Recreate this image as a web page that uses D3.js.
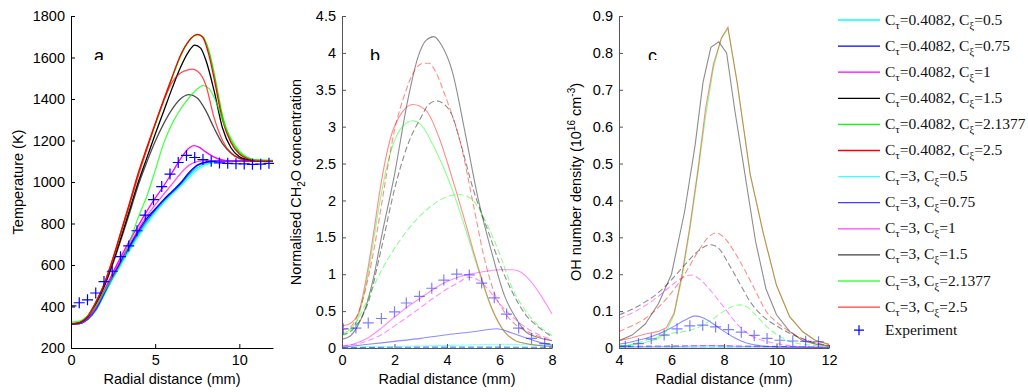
<!DOCTYPE html>
<html>
<head>
<meta charset="utf-8">
<script src="https://cdn.jsdelivr.net/npm/d3@7/dist/d3.min.js"></script>
<style>body{margin:0;background:#fff}</style>
</head>
<body>
<script>
// legend entries, in plotting order
var tauVals = ['0.4082','0.4082','0.4082','0.4082','0.4082','0.4082','3','3','3','3','3','3'];
var xiVals = ['0.5','0.75','1','1.5','2.1377','2.5','0.5','0.75','1','1.5','2.1377','2.5'];
var runColors = ['#00ffff','#0000ff','#ff00ff','#000000','#00ff00','#ff0000'];

// axis ticks
var tempXTicks = [0,5,10], tempYTicks = [200,400,600,800,1000,1200,1400,1600,1800];
var ch2oXTicks = [0,2,4,6,8], ch2oYTicks = [0,0.5,1,1.5,2,2.5,3,3.5,4,4.5];
var ohXTicks = [4,6,8,10,12], ohYTicks = [0,0.1,0.2,0.3,0.4,0.5,0.6,0.7,0.8,0.9];

// (a) temperature [mm, K]
var tempRuns = [
  [[0,315],[0.5,318],[1,338],[1.5,385],[2,462],[2.5,540],[3,612],[3.5,680],[4,745],[4.5,805],[5,858],[5.5,905],[6,948],[6.5,985],[7,1030],[7.5,1068],[8,1088],[8.5,1097],[9,1100],[12,1100]],
  [[0,315],[0.5,318],[1,340],[1.5,390],[2,470],[2.5,550],[3,625],[3.5,695],[4,765],[4.5,825],[5,870],[5.5,915],[6,955],[6.5,995],[7,1045],[7.5,1082],[8,1096],[8.5,1100],[12,1100]],
  [[0,315],[0.5,320],[1,345],[1.5,400],[2,482],[2.5,565],[3,645],[3.5,720],[4,790],[4.5,858],[5,922],[5.5,980],[6,1045],[6.5,1110],[7,1163],[7.3,1175],[7.6,1168],[8,1145],[8.5,1120],[9,1106],[9.5,1101],[10,1100],[12,1100]],
  [[0,315],[0.5,322],[1,352],[1.5,418],[2,505],[2.5,615],[3,740],[3.5,870],[4,1000],[4.5,1115],[5,1230],[5.5,1340],[6,1450],[6.5,1552],[7,1630],[7.35,1660],[7.7,1645],[8,1590],[8.5,1440],[9,1260],[9.5,1165],[10,1122],[10.5,1108],[11,1102],[12,1100]],
  [[0,318],[0.5,324],[1,355],[1.5,423],[2,512],[2.5,630],[3,765],[3.5,900],[4,1040],[4.5,1160],[5,1275],[5.5,1390],[6,1500],[6.5,1605],[7,1678],[7.5,1709],[7.8,1702],[8.2,1630],[8.5,1525],[9,1320],[9.5,1200],[10,1142],[10.5,1116],[11,1107],[12,1104]],
  [[0,315],[0.5,322],[1,355],[1.5,425],[2,515],[2.5,635],[3,770],[3.5,905],[4,1045],[4.5,1165],[5,1280],[5.5,1395],[6,1505],[6.5,1610],[7,1680],[7.5,1711],[7.8,1700],[8.2,1610],[8.5,1500],[9,1300],[9.5,1190],[10,1135],[10.5,1112],[11,1104],[12,1102]],
  [[0,315],[0.5,318],[1,337],[1.5,382],[2,458],[2.5,535],[3,605],[3.5,672],[4,737],[4.5,797],[5,850],[5.5,898],[6,940],[6.5,978],[7,1020],[7.5,1058],[8,1082],[8.5,1094],[9,1099],[9.5,1100],[12,1100]],
  [[0,315],[0.5,318],[1,339],[1.5,388],[2,466],[2.5,545],[3,618],[3.5,688],[4,755],[4.5,815],[5,865],[5.5,910],[6,950],[6.5,990],[7,1038],[7.5,1078],[8,1094],[8.5,1099],[9,1100],[12,1100]],
  [[0,315],[0.5,319],[1,342],[1.5,395],[2,475],[2.5,555],[3,632],[3.5,705],[4,772],[4.5,835],[5,890],[5.5,940],[6,990],[6.5,1040],[7,1080],[7.5,1098],[8,1103],[8.5,1102],[9,1100],[12,1100]],
  [[0,315],[0.5,321],[1,350],[1.5,414],[2,500],[2.5,608],[3,730],[3.5,855],[4,985],[4.5,1095],[5,1195],[5.5,1280],[6,1350],[6.5,1400],[7,1421],[7.5,1405],[8,1345],[8.5,1260],[9,1185],[9.5,1140],[10,1115],[10.5,1105],[11,1101],[12,1100]],
  [[0,325],[0.5,330],[1,355],[1.5,405],[2,475],[2.5,540],[3,610],[3.5,715],[4,830],[4.5,930],[5,1055],[5.5,1185],[6,1280],[6.5,1350],[7,1405],[7.5,1448],[7.85,1466],[8.2,1450],[8.6,1390],[9,1300],[9.5,1210],[10,1150],[10.5,1118],[11,1106],[12,1103]],
  [[0,315],[0.5,322],[1,354],[1.5,423],[2,512],[2.5,630],[3,762],[3.5,895],[4,1030],[4.5,1155],[5,1280],[5.5,1390],[6,1480],[6.5,1525],[7,1542],[7.2,1544],[7.5,1535],[8,1470],[8.5,1310],[9,1200],[9.5,1140],[10,1112],[10.5,1103],[11,1100],[12,1100]]
];
var tempExp = [[0,403],[0.49,418],[0.98,432],[1.47,465],[1.96,520],[2.45,570],[2.94,640],[3.43,692],[3.92,765],[4.41,840],[4.9,915],[5.39,978],[5.88,1038],[6.37,1094],[6.86,1128],[7.35,1118],[7.84,1108],[8.33,1100],[8.82,1092],[9.31,1090],[9.8,1088],[10.29,1087],[10.78,1085],[11.27,1086],[11.76,1090]];

// (b) normalised CH2O [mm, -]
var ch2oRuns = [
  [[0,0.01],[2,0.02],[4,0.035],[6,0.05],[7,0.045],[8,0.035]],
  [[0,0.01],[1,0.05],[2,0.09],[3,0.13],[4,0.18],[5,0.22],[5.9,0.26],[6.5,0.2],[7,0.14],[7.5,0.08],[8,0.04]],
  [[0,0.02],[0.5,0.06],[1,0.14],[1.5,0.27],[2,0.42],[2.5,0.56],[3,0.68],[3.5,0.8],[4,0.9],[4.5,0.97],[5,1.01],[5.5,1.04],[6,1.06],[6.5,1.06],[6.8,1.03],[7.2,0.9],[7.6,0.7],[8,0.46]],
  [[0,0.12],[0.3,0.16],[0.6,0.3],[0.9,0.55],[1.2,0.95],[1.5,1.5],[2,2.35],[2.5,3.35],[2.9,3.95],[3.2,4.17],[3.5,4.22],[3.8,4.1],[4.2,3.75],[4.7,2.9],[5.2,2.0],[5.7,1.3],[6.2,0.7],[6.6,0.42],[7,0.22],[7.5,0.14],[8,0.1]],
  [[0,0.2],[0.3,0.25],[0.6,0.4],[0.95,0.92],[1.2,1.45],[1.45,2.0],[1.85,2.65],[2.3,3.0],[2.7,3.08],[3,3.03],[3.4,2.8],[3.8,2.5],[4.2,2.15],[4.7,1.62],[5.2,1.05],[5.7,0.53],[6.2,0.21],[6.6,0.1],[7,0.06],[8,0.02]],
  [[0,0.3],[0.3,0.33],[0.6,0.45],[0.95,1.0],[1.2,1.55],[1.45,2.15],[1.85,2.85],[2.3,3.2],[2.7,3.3],[3.2,3.22],[3.7,2.85],[4.2,2.3],[4.7,1.7],[5.2,1.08],[5.7,0.55],[6.2,0.22],[6.6,0.1],[7,0.06],[8,0.02]],
  [[0,0.004],[4,0.008],[8,0.008]],
  [[0,0.006],[4,0.012],[8,0.01]],
  [[0,0.03],[0.5,0.05],[1,0.1],[1.5,0.18],[2,0.3],[2.5,0.42],[3,0.55],[3.5,0.68],[4,0.8],[4.5,0.9],[4.8,0.96],[5.2,0.92],[5.6,0.78],[6,0.6],[6.5,0.42],[7,0.28],[7.5,0.18],[8,0.12]],
  [[0,0.18],[0.3,0.22],[0.6,0.33],[1,0.62],[1.5,1.35],[2,2.15],[2.5,2.75],[3,3.12],[3.3,3.3],[3.6,3.35],[3.9,3.3],[4.2,3.15],[4.5,2.8],[5,2.15],[5.6,1.55],[6,1.15],[6.5,0.75],[7,0.45],[7.5,0.28],[8,0.15]],
  [[0,0.17],[0.3,0.22],[0.6,0.38],[1,0.68],[1.5,1.05],[2,1.35],[2.5,1.6],[3,1.8],[3.5,1.95],[4,2.05],[4.4,2.08],[4.8,2.05],[5.2,1.9],[5.6,1.62],[6,1.28],[6.5,0.8],[7,0.5],[7.5,0.3],[8,0.17]],
  [[0,0.25],[0.3,0.28],[0.6,0.45],[1,0.95],[1.3,1.5],[1.6,2.15],[2,2.95],[2.4,3.45],[2.8,3.78],[3.1,3.86],[3.3,3.86],[3.6,3.72],[3.9,3.45],[4.2,3.15],[4.5,2.8],[5,1.95],[5.4,1.25],[5.8,0.75],[6.2,0.48],[6.6,0.32],[7.2,0.2],[8,0.1]]
];
var ch2oExp = [[0.05,0.26],[0.53,0.27],[1.0,0.34],[1.5,0.4],[2.0,0.49],[2.45,0.61],[2.95,0.7],[3.42,0.81],[3.88,0.92],[4.37,1.0],[4.85,0.99],[5.32,0.88],[5.8,0.68],[6.27,0.46],[6.73,0.27],[7.22,0.13],[7.72,0.06]];

// (c) OH number density [mm, 1e16 cm^-3]
var ohRuns = [
  [[4,0.002],[12,0.002]],
  [[4,0.01],[4.5,0.017],[5,0.026],[5.5,0.038],[6,0.055],[6.5,0.075],[6.9,0.087],[7.2,0.082],[7.6,0.065],[8,0.045],[8.4,0.028],[8.8,0.015],[9.3,0.007],[10,0.003],[12,0.001]],
  [[4,0.003],[6,0.004],[7.5,0.006],[9,0.004],[12,0.002]],
  [[4,0.02],[4.5,0.035],[5,0.065],[5.5,0.12],[6,0.2],[6.5,0.37],[6.9,0.55],[7.2,0.72],[7.5,0.815],[7.8,0.83],[8.1,0.8],[8.4,0.65],[8.8,0.47],[9.2,0.29],[9.6,0.16],[10,0.09],[10.5,0.045],[11,0.02],[11.5,0.01],[12,0.005]],
  [[4,0.005],[4.5,0.008],[5,0.015],[5.5,0.025],[5.8,0.045],[6.1,0.09],[6.4,0.19],[6.7,0.32],[7,0.47],[7.3,0.63],[7.6,0.76],[7.9,0.84],[8.15,0.865],[8.5,0.72],[9,0.47],[9.5,0.31],[10,0.17],[10.5,0.085],[11,0.044],[11.5,0.02],[12,0.01]],
  [[4,0.02],[4.5,0.028],[5,0.038],[5.5,0.045],[5.8,0.055],[6.1,0.095],[6.4,0.2],[6.7,0.33],[7,0.48],[7.3,0.65],[7.6,0.77],[7.9,0.84],[8.15,0.87],[8.5,0.72],[9,0.47],[9.5,0.31],[10,0.17],[10.5,0.085],[11,0.044],[11.5,0.02],[12,0.01]],
  [[4,0.001],[12,0.001]],
  [[4,0.004],[7,0.006],[12,0.002]],
  [[4,0.08],[4.5,0.095],[5,0.115],[5.5,0.14],[6,0.17],[6.4,0.19],[6.75,0.198],[7.1,0.185],[7.5,0.155],[8,0.11],[8.5,0.065],[9,0.035],[9.5,0.02],[10,0.012],[10.5,0.006],[11,0.003],[12,0.001]],
  [[4,0.09],[4.5,0.105],[5,0.125],[5.5,0.15],[6,0.185],[6.5,0.225],[7,0.262],[7.5,0.28],[7.8,0.27],[8.2,0.225],[8.6,0.175],[9,0.125],[9.5,0.085],[10,0.06],[10.5,0.04],[11,0.025],[11.5,0.013],[12,0.007]],
  [[4,0.005],[4.5,0.01],[5,0.02],[5.5,0.03],[6,0.04],[6.5,0.045],[7,0.055],[7.5,0.075],[8,0.1],[8.3,0.112],[8.6,0.117],[8.9,0.11],[9.2,0.09],[9.6,0.06],[10,0.037],[10.5,0.018],[11,0.01],[12,0.005]],
  [[4,0.045],[4.5,0.06],[5,0.08],[5.5,0.11],[6,0.15],[6.5,0.2],[7,0.26],[7.4,0.3],[7.7,0.312],[8,0.3],[8.4,0.26],[8.8,0.21],[9.2,0.155],[9.6,0.1],[10,0.07],[10.5,0.045],[11,0.025],[11.5,0.013],[12,0.007]]
];
var ohExp = [[4.24,0.005],[4.74,0.012],[5.23,0.025],[5.72,0.035],[6.21,0.052],[6.7,0.06],[7.19,0.062],[7.68,0.057],[8.17,0.05],[8.66,0.043],[9.15,0.034],[9.64,0.026],[10.13,0.021],[10.62,0.019],[11.11,0.018],[11.6,0.017]];

var svgW = 1028, svgH = 392, plotTop = 16, plotBottom = 348;
var sans = 'Arial, "Liberation Sans", sans-serif';

var svg = d3.select('body').append('svg').attr('width', svgW).attr('height', svgH)
	.attr('font-family', sans);
var defs = svg.append('defs');
// the panel letters only show their upper part
defs.append('clipPath').attr('id','letterClip').append('rect')
	.attr('x',0).attr('y',0).attr('width',svgW).attr('height',60);

function crossPath(s){ return 'M' + (-s) + ',0H' + s + 'M0,' + (-s) + 'V' + s; }

function drawPanel(p){
	var x = d3.scaleLinear().domain(p.xDom).range([p.left, p.right]);
	var y = d3.scaleLinear().domain(p.yDom).range([plotBottom, plotTop]);
	var g = svg.append('g');

	defs.append('clipPath').attr('id','clip'+p.name).append('rect')
		.attr('x', p.left).attr('y', 8).attr('width', p.right - p.left + 1).attr('height', plotBottom - 8 + 1);
	var plot = g.append('g').attr('clip-path','url(#clip'+p.name+')');

	p.runs.forEach(function(run, i){
		var line = d3.line().x(function(d){ return x(d[0]); }).y(function(d){ return y(d[1]); })
			.curve(p.sharp && (i == 3 || i == 4 || i == 5) ? d3.curveLinear : d3.curveMonotoneX);
		plot.append('path').attr('d', line(run))
			.attr('fill','none')
			.attr('stroke', runColors[i % 6])
			.attr('stroke-width', p.lineW)
			.attr('stroke-opacity', i < 6 ? p.op1 : p.op2)
			.attr('stroke-dasharray', (p.dashed && i >= 6) ? '6,3' : null);
	});

	plot.selectAll('.exp').data(p.exp).enter().append('path')
		.attr('d', crossPath(p.crossR))
		.attr('transform', function(d){ return 'translate(' + x(d[0]) + ',' + y(d[1]) + ')'; })
		.attr('fill','none').attr('stroke','#0000ff').attr('stroke-width',1.2)
		.attr('stroke-opacity', p.expOp);

	var fmt = d3.format('');
	var ax = g.append('g').attr('transform','translate(0,' + plotBottom + ')')
		.call(d3.axisBottom(x).tickValues(p.xTicks).tickFormat(fmt).tickSizeInner(-4).tickSizeOuter(0).tickPadding(7));
	var ay = g.append('g').attr('transform','translate(' + p.left + ',0)')
		.call(d3.axisLeft(y).tickValues(p.yTicks).tickFormat(fmt).tickSizeInner(-4).tickSizeOuter(0).tickPadding(6));
	[ax, ay].forEach(function(a){
		a.attr('font-family', sans).attr('font-size', 14.5);
		a.selectAll('text').attr('fill','#000');
		a.selectAll('path, line').attr('stroke', p.axisColor);
	});

	g.append('text').attr('x', (p.left + p.right)/2).attr('y', 384)
		.attr('text-anchor','middle').attr('font-size',14.5).text('Radial distance (mm)');

	var yt = g.append('text').attr('transform','translate(' + p.titleX + ',' + ((plotTop + plotBottom)/2) + ') rotate(-90)')
		.attr('text-anchor','middle').attr('font-size',14.5);
	p.title(yt);

	g.append('text').attr('x', p.letterX).attr('y', 62).attr('font-size',18)
		.attr('clip-path','url(#letterClip)').text(p.name);
}

drawPanel({name:'a', xDom:[0,12], left:71, right:273, yDom:[200,1800],
	runs:tempRuns, exp:tempExp, xTicks:tempXTicks, yTicks:tempYTicks,
	lineW:1.3, op1:1, op2:0.7, dashed:false, expOp:1, crossR:5.5, axisColor:'#000',
	titleX:22.5, letterX:94,
	title:function(t){ t.text('Temperature (K)'); }});

drawPanel({name:'b', xDom:[0,8], left:342, right:552, yDom:[0,4.5],
	runs:ch2oRuns, exp:ch2oExp, xTicks:ch2oXTicks, yTicks:ch2oYTicks,
	lineW:1.1, op1:0.45, op2:0.45, dashed:true, expOp:0.5, crossR:5.5, axisColor:'#555',
	titleX:300.5, letterX:370,
	title:function(t){
		t.append('tspan').text('Normalised CH');
		t.append('tspan').attr('dy',4).attr('font-size',10).text('2');
		t.append('tspan').attr('dy',-4).text('O concentration');
	}});

drawPanel({name:'c', xDom:[4,12], left:619, right:829, yDom:[0,0.9],
	runs:ohRuns, exp:ohExp, xTicks:ohXTicks, yTicks:ohYTicks, sharp:true,
	lineW:1.1, op1:0.45, op2:0.45, dashed:true, expOp:0.5, crossR:5.5, axisColor:'#555',
	titleX:580.5, letterX:648,
	title:function(t){
		t.append('tspan').text('OH number density (10');
		t.append('tspan').attr('dy',-6).attr('font-size',10).text('16');
		t.append('tspan').attr('dy',6).text(' cm');
		t.append('tspan').attr('dy',-6).attr('font-size',10).text('-3');
		t.append('tspan').attr('dy',6).text(')');
	}});

// legend (white box overlaps the end of panel c's x axis)
var leg = svg.append('g').attr('font-family','"Liberation Serif", "Times New Roman", serif');
leg.append('rect').attr('x',829).attr('y',0).attr('width',svgW - 829).attr('height',345).attr('fill','#fff');
var rowH = 26.1, row0 = 20;
tauVals.forEach(function(tau, i){
	var yy = row0 + i*rowH;
	leg.append('line').attr('x1',838).attr('x2',880).attr('y1',yy).attr('y2',yy)
		.attr('stroke', runColors[i % 6]).attr('stroke-width',1.3).attr('stroke-opacity', i < 6 ? 1 : 0.75);
	var t = leg.append('text').attr('x',885).attr('y',yy + 4.5).attr('font-size',15.5).attr('fill','#111');
	t.append('tspan').text('C');
	t.append('tspan').attr('dy',4).attr('font-size',11).text('\u03c4');
	t.append('tspan').attr('dy',-4).text('=' + tau + ', C');
	t.append('tspan').attr('dy',4).attr('font-size',11).text('\u03be');
	t.append('tspan').attr('dy',-4).text('=' + xiVals[i]);
});
var yExp = row0 + 12*rowH - 3;
leg.append('path').attr('d', crossPath(5)).attr('transform','translate(859,' + yExp + ')')
	.attr('stroke','#0000ff').attr('stroke-width',1.2).attr('fill','none');
leg.append('text').attr('x',885).attr('y',yExp + 4.5).attr('font-size',15.5).attr('fill','#111').text('Experiment');
</script>
</body>
</html>
